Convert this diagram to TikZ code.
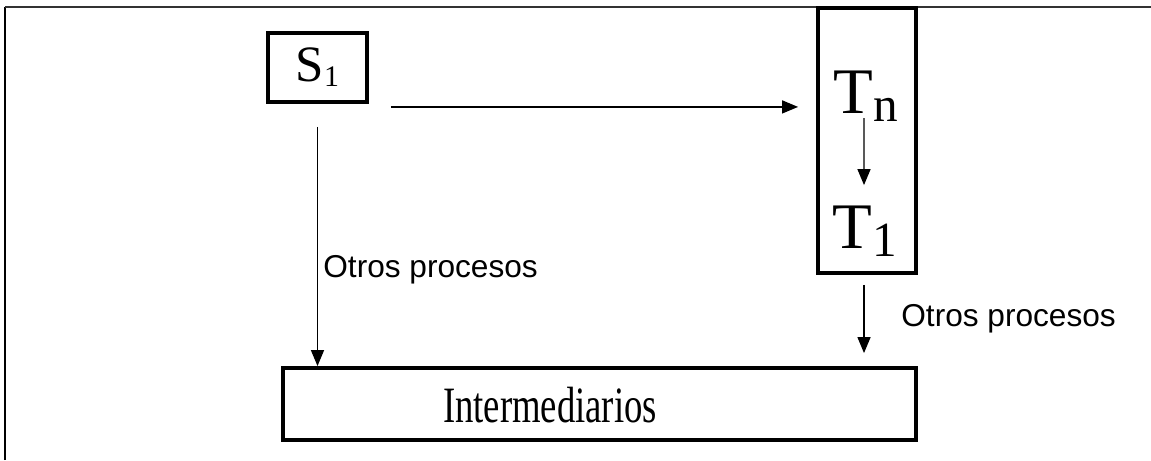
\documentclass[tikz,border=0pt]{standalone}
\usepackage{fontspec}
\setmainfont{Liberation Serif}
\setsansfont{Liberation Sans}
\usetikzlibrary{arrows.meta}

\newcommand{\lowsub}[3]{\raisebox{-#1}{\fontsize{#2}{#2}\selectfont #3}}

\tikzset{
  box/.style={draw, line width=2.2pt, inner sep=0pt},
  conn/.style={line width=0.8pt, -{Triangle[length=0.32cm,width=0.26cm]}},
  lbl/.style={font=\sffamily\fontsize{18}{18}\selectfont, anchor=base west, inner sep=0pt}
}

\begin{document}
\begin{tikzpicture}[x=0.02cm, y=-0.02cm]
    \useasboundingbox (0,0) rectangle (1151,460);
    % outer frame
    \draw[line width=1.3pt] (5,460) -- (5,7);
    \draw[line width=0.6pt, black!80] (5,7) -- (1151,7);

    \node[box, minimum width=1.98cm, minimum height=1.38cm] (s1) at (317.5,67.5)
        {\fontsize{29}{29}\selectfont S\lowsub{2.8pt}{17}{1}\hspace{0.2cm}};
    \node[box, minimum width=1.96cm, minimum height=5.3cm] (tbox) at (867,140.5) {};
    \node[inner sep=0pt, anchor=base] (tn) at (866,113)
        {\fontsize{37}{37}\selectfont T\lowsub{5pt}{28}{n}};
    \node[inner sep=0pt, anchor=base] (t1) at (865,248)
        {\fontsize{37}{37}\selectfont T\lowsub{5pt}{28}{1}};
    \node[box, minimum width=12.66cm, minimum height=1.44cm] (inter) at (599.5,404) {};
    \node[inner sep=0pt, anchor=base] (intertext) at (550,422)
        {\fontsize{29}{29}\selectfont\scalebox{0.72}[1]{Intermediarios}};

    \coordinate (s1out) at ([shift={(0.44cm,-0.06cm)}]s1.south east);
    \draw[conn] (s1out) -- ([xshift=-0.36cm]tbox.west |- s1out);
    \draw[conn] ([yshift=-0.46cm]s1.south) -- (s1.south |- inter.north);
    \draw[conn] ([shift={(-0.04cm,-0.1cm)}]tn.base) -- ([shift={(-0.02cm,0.4cm)}]t1.north);
    \draw[conn] ([shift={(-0.06cm,-0.2cm)}]tbox.south) -- ([shift={(-0.06cm,0.26cm)}]tbox.south |- inter.north);

    \node[lbl] (otros1) at (323,277) {Otros procesos};
    \node[lbl] (otros2) at (901,326) {Otros procesos};
\end{tikzpicture}
\end{document}
